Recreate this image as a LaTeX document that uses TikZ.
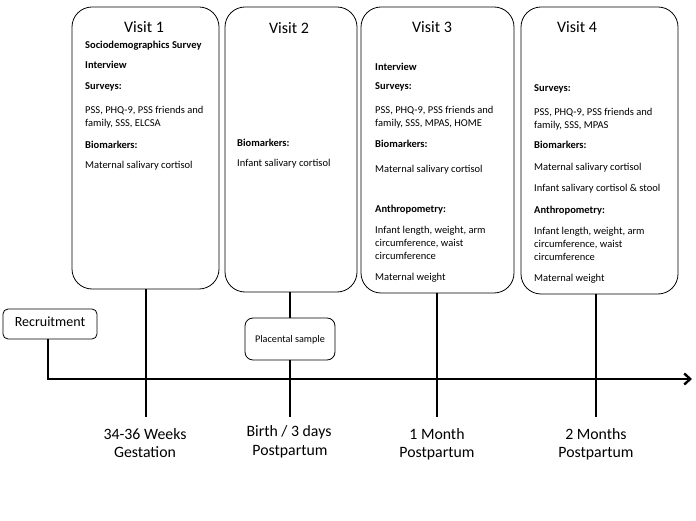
\documentclass[tikz,border=0pt]{standalone}
\usepackage{fontspec}
\setmainfont{Carlito}
\usetikzlibrary{arrows.meta}
\begin{document}
\begin{tikzpicture}[x=1pt,y=-1pt,
  visit/.style={draw, rounded corners=20pt, line width=0.8pt, inner sep=0pt, outer sep=0pt, anchor=north west},
  smallbox/.style={draw, line width=0.8pt, inner sep=0pt, outer sep=0pt, anchor=north west},
  stem/.style={line width=2.4pt},
  txt/.style={anchor=base west, inner sep=0pt, font=\fontsize{10.5}{12}\selectfont},
  hd/.style={anchor=base west, inner sep=0pt, font=\fontsize{10.5}{12}\selectfont\bfseries},
  vtitle/.style={anchor=base, inner sep=0pt, font=\fontsize{16}{19}\selectfont},
  lab/.style={anchor=base, inner sep=0pt, font=\fontsize{15.8}{19}\selectfont}]
\useasboundingbox (0,0) rectangle (696,521);

% visit boxes
\node[visit, minimum width=147pt, minimum height=282pt] (b1) at (72,7) {};
\node[visit, minimum width=132pt, minimum height=285pt] (b2) at (225,7) {};
\node[visit, minimum width=153pt, minimum height=286pt] (b3) at (361,7) {};
\node[visit, minimum width=157pt, minimum height=287pt] (b4) at (521,7) {};

% small boxes
\node[smallbox, rounded corners=5pt, minimum width=94pt, minimum height=30pt] (rec) at (3,309) {};
\node[anchor=base, inner sep=0pt, font=\fontsize{14}{16}\selectfont] (rect) at (50,326.5) {Recruitment};
\node[smallbox, rounded corners=8pt, minimum width=90pt, minimum height=42pt] (pl) at (245,318) {};
\node[anchor=base, inner sep=0pt, font=\fontsize{10.2}{12}\selectfont] (plt) at (290,342) {Placental sample};

% stem ends
\coordinate (t1) at (146,417);
\coordinate (t2) at (290,417);
\coordinate (t3) at (437,417);
\coordinate (t4) at (596,417);
\coordinate (axend) at (692,379);

% axis
\draw[stem, -{Straight Barb[length=6pt,width=11pt]}] (rec.south -| 48,0) |- (axend);
\draw[stem] (b1.south -| t1) -- (t1);
\draw[stem] (b2.south -| t2) -- (pl.north -| t2);
\draw[stem] (pl.south -| t2) -- (t2);
\draw[stem] (b3.south -| t3) -- (t3);
\draw[stem] (b4.south -| t4) -- (t4);

% titles
\node[vtitle] (v1t) at (144,33) {Visit 1};
\node[vtitle] (v2t) at (289,34) {Visit 2};
\node[vtitle] (v3t) at (432,33) {Visit 3};
\node[vtitle] (v4t) at (577,33) {Visit 4};

% visit 1
\node[hd]  (v1a) at (85,48.5) {Sociodemographics Survey};
\node[hd]  (v1b) at (85,68.5) {Interview};
\node[hd]  (v1c) at (85,89.5) {Surveys:};
\node[txt] (v1d) at (85,113.5) {PSS, PHQ-9, PSS friends and};
\node[txt] (v1e) at (85,127) {family, SSS, ELCSA};
\node[hd]  (v1f) at (85,148.5) {Biomarkers:};
\node[txt] (v1g) at (85,168.5) {Maternal salivary cortisol};

% visit 2
\node[hd]  (v2a) at (237,146.5) {Biomarkers:};
\node[txt] (v2b) at (237,166.5) {Infant salivary cortisol};

% visit 3
\node[hd]  (v3a) at (375,70.5) {Interview};
\node[hd]  (v3b) at (375,89.5) {Surveys:};
\node[txt] (v3c) at (375,113.5) {PSS, PHQ-9, PSS friends and};
\node[txt] (v3d) at (375,127) {family, SSS, MPAS, HOME};
\node[hd]  (v3e) at (375,147.5) {Biomarkers:};
\node[txt] (v3f) at (375,172.5) {Maternal salivary cortisol};
\node[hd]  (v3g) at (375,212.5) {Anthropometry:};
\node[txt] (v3h) at (375,233.5) {Infant length, weight, arm};
\node[txt] (v3i) at (375,246.5) {circumference, waist};
\node[txt] (v3j) at (375,259.5) {circumference};
\node[txt] (v3k) at (375,280.5) {Maternal weight};

% visit 4
\node[hd]  (v4a) at (534,91.5) {Surveys:};
\node[txt] (v4b) at (534,115.5) {PSS, PHQ-9, PSS friends and};
\node[txt] (v4c) at (534,129) {family, SSS, MPAS};
\node[hd]  (v4d) at (534,148.5) {Biomarkers:};
\node[txt] (v4e) at (534,170.5) {Maternal salivary cortisol};
\node[txt] (v4f) at (534,191.5) {Infant salivary cortisol \& stool};
\node[hd]  (v4g) at (534,213.5) {Anthropometry:};
\node[txt] (v4h) at (534,234.5) {Infant length, weight, arm};
\node[txt] (v4i) at (534,247.5) {circumference, waist};
\node[txt] (v4j) at (534,260.5) {circumference};
\node[txt] (v4k) at (534,281.5) {Maternal weight};

% bottom labels
\node[lab] (l1a) at (145,439) {34-36 Weeks};
\node[lab] (l1b) at (145,457) {Gestation};
\node[lab] (l2a) at (289,436) {Birth / 3 days};
\node[lab] (l2b) at (290,455) {Postpartum};
\node[lab] (l3a) at (437,439) {1 Month};
\node[lab] (l3b) at (437,457) {Postpartum};
\node[lab] (l4a) at (596,439) {2 Months};
\node[lab] (l4b) at (596,457) {Postpartum};
\end{tikzpicture}
\end{document}
